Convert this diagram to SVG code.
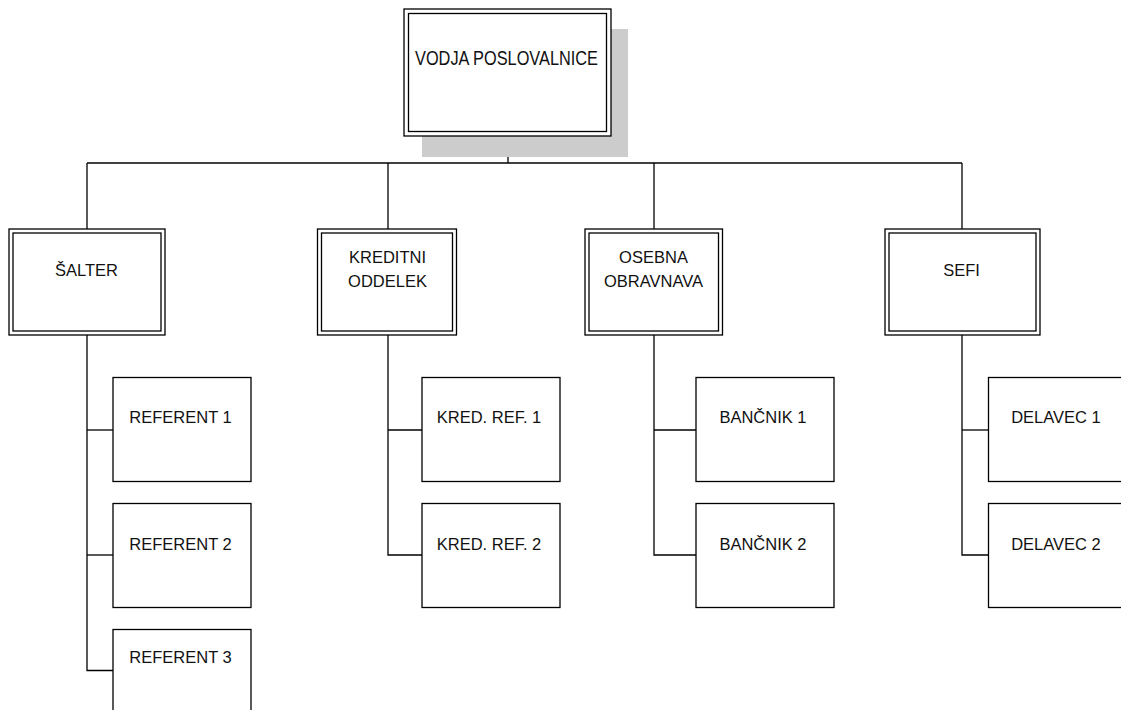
<svg xmlns="http://www.w3.org/2000/svg" width="1121" height="710" viewBox="0 0 1121 710">
<style>
.ln{stroke:#000;stroke-width:1.3;fill:none}
.bx{fill:#fff;stroke:#000;stroke-width:1.3}
.in{fill:none;stroke:#000;stroke-width:1.3}
.t{font-family:"Liberation Sans",Arial,sans-serif;font-size:16.5px;fill:#111;text-anchor:middle}
</style>
<rect width="1121" height="710" fill="#fff"/>
<g id="connectors">
<line class="ln" x1="508" y1="136" x2="508" y2="163"/>
<line class="ln" x1="87" y1="163" x2="962" y2="163"/>
<line class="ln" x1="87" y1="163" x2="87" y2="229"/>
<line class="ln" x1="388" y1="163" x2="388" y2="229"/>
<line class="ln" x1="654" y1="163" x2="654" y2="229"/>
<line class="ln" x1="962" y1="163" x2="962" y2="229"/>
<polyline class="ln" points="87,335 87,670.5 113,670.5"/>
<line class="ln" x1="87" y1="430" x2="113" y2="430"/>
<line class="ln" x1="87" y1="555" x2="113" y2="555"/>
<polyline class="ln" points="388,335 388,555 422,555"/>
<line class="ln" x1="388" y1="430" x2="422" y2="430"/>
<polyline class="ln" points="654,335 654,555 696,555"/>
<line class="ln" x1="654" y1="430" x2="696" y2="430"/>
<polyline class="ln" points="962,335 962,555 988,555"/>
<line class="ln" x1="962" y1="430" x2="988" y2="430"/>
</g>
<g id="vodja">
<rect x="422" y="29" width="206" height="128" fill="#cccccc"/>
<rect class="bx" x="404" y="9" width="207" height="127"/>
<rect class="in" x="408.5" y="13.5" width="198" height="118"/>
<text class="t" x="415" y="65" style="text-anchor:start;font-size:19.5px" textLength="183" lengthAdjust="spacingAndGlyphs">VODJA POSLOVALNICE</text>
</g>
<g id="salter">
<rect class="bx" x="9" y="229" width="156" height="106"/>
<rect class="in" x="13" y="233" width="148" height="98"/>
<text class="t" x="86.5" y="276">ŠALTER</text>
</g>
<g id="kreditni">
<rect class="bx" x="317.5" y="229" width="139" height="106"/>
<rect class="in" x="321.5" y="233" width="131" height="98"/>
<text class="t" x="387.5" y="263">KREDITNI</text>
<text class="t" x="387.5" y="287">ODDELEK</text>
</g>
<g id="osebna">
<rect class="bx" x="585" y="229" width="137.5" height="106"/>
<rect class="in" x="589" y="233" width="129.5" height="98"/>
<text class="t" x="653.5" y="263">OSEBNA</text>
<text class="t" x="653.5" y="287">OBRAVNAVA</text>
</g>
<g id="sefi">
<rect class="bx" x="885" y="229" width="155" height="106"/>
<rect class="in" x="889" y="233" width="147" height="98"/>
<text class="t" x="961.5" y="276">SEFI</text>
</g>
<g id="referent1">
<rect class="bx" x="113" y="377.5" width="138" height="104"/>
<text class="t" x="180.5" y="423">REFERENT 1</text>
</g>
<g id="referent2">
<rect class="bx" x="113" y="503.5" width="138" height="104"/>
<text class="t" x="180.5" y="549.5">REFERENT 2</text>
</g>
<g id="referent3">
<rect class="bx" x="113" y="629.5" width="138" height="104"/>
<text class="t" x="180.5" y="663">REFERENT 3</text>
</g>
<g id="kredref1">
<rect class="bx" x="422" y="377.5" width="138" height="104"/>
<text class="t" x="489" y="423">KRED. REF. 1</text>
</g>
<g id="kredref2">
<rect class="bx" x="422" y="503.5" width="138" height="104"/>
<text class="t" x="489" y="550">KRED. REF. 2</text>
</g>
<g id="bancnik1">
<rect class="bx" x="696" y="377.5" width="138" height="104"/>
<text class="t" x="763" y="423">BANČNIK 1</text>
</g>
<g id="bancnik2">
<rect class="bx" x="696" y="503.5" width="138" height="104"/>
<text class="t" x="763" y="550">BANČNIK 2</text>
</g>
<g id="delavec1">
<rect class="bx" x="988.5" y="377.5" width="138" height="104"/>
<text class="t" x="1056" y="423">DELAVEC 1</text>
</g>
<g id="delavec2">
<rect class="bx" x="988.5" y="503.5" width="138" height="104"/>
<text class="t" x="1056" y="550">DELAVEC 2</text>
</g>
</svg>
